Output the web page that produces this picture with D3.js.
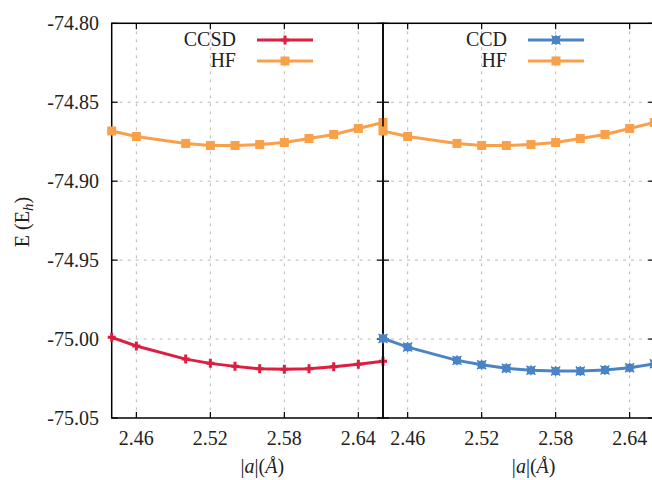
<!DOCTYPE html>
<html><head><meta charset="utf-8">
<script src="https://cdn.jsdelivr.net/npm/d3@7/dist/d3.min.js"></script>
<style>body{margin:0;background:#fff}svg{display:block}text{font-family:"Liberation Serif","DejaVu Serif",serif;fill:#222}</style>
</head><body><svg id="c" width="652" height="480"></svg>
<script>
const xs = [2.44, 2.46, 2.50, 2.52, 2.54, 2.56, 2.58, 2.60, 2.62, 2.64, 2.66];
const hf = [-74.8682, -74.8717, -74.8761, -74.8774, -74.8774, -74.8768, -74.8755, -74.8730, -74.8704, -74.8666, -74.8628];
const ccsd = [-74.9989, -75.0044, -75.0127, -75.0154, -75.0173, -75.0188, -75.0192, -75.0188, -75.0175, -75.0160, -75.0141];
const ccd = [-74.9996, -75.0051, -75.0135, -75.0163, -75.0185, -75.0198, -75.0203, -75.0203, -75.0196, -75.0182, -75.0157];
const xTicks = [2.46, 2.52, 2.58, 2.64];
const yTicks = [-74.80, -74.85, -74.90, -74.95, -75.00, -75.05];

const colRed = "#dc1f41", colOrange = "#f9a04b", colBlue = "#4884c6";
const svg = d3.select("#c");
const plotTop = 23.3, plotBottom = 418;
const y = d3.scaleLinear().domain([-75.05, -74.80]).range([plotBottom, plotTop]);

const panels = [
  {x0: 111.7, x1: 383, corr: ccsd, corrName: "CCSD", corrCol: colRed, marker: "plus", legX: 236, showY: true},
  {x0: 383, x1: 654.3, corr: ccd, corrName: "CCD", corrCol: colBlue, marker: "star", legX: 507, showY: false}
];

function drawMarker(g, type, cx, cy, col) {
  if (type === "square") {
    g.append("rect").attr("x", cx-4.5).attr("y", cy-4.5).attr("width", 9).attr("height", 9).attr("fill", col);
  } else if (type === "plus") {
    g.append("path").attr("d", `M${cx-4},${cy}H${cx+4}M${cx},${cy-4.5}V${cy+4.5}`).attr("stroke", col).attr("stroke-width", 3);
  } else {
    g.append("rect").attr("x", cx-4).attr("y", cy-4).attr("width", 8).attr("height", 8).attr("fill", col);
    g.append("path").attr("d", `M${cx-4.5},${cy-4.5}L${cx+4.5},${cy+4.5}M${cx-4.5},${cy+4.5}L${cx+4.5},${cy-4.5}M${cx-5},${cy}H${cx+5}M${cx},${cy-5}V${cy+5}`).attr("stroke", col).attr("stroke-width", 1.4);
  }
}

panels.forEach(p => {
  const x = d3.scaleLinear().domain([2.44, 2.66]).range([p.x0, p.x1]);
  const g = svg.append("g");
  xTicks.forEach(t => g.append("line").attr("x1", x(t)).attr("x2", x(t)).attr("y1", plotTop).attr("y2", plotBottom)
    .attr("stroke", "#b8b8b8").attr("stroke-width", 1).attr("stroke-dasharray", "3,5"));
  yTicks.slice(1, -1).forEach(t => g.append("line").attr("x1", p.x0).attr("x2", p.x1).attr("y1", y(t)).attr("y2", y(t))
    .attr("stroke", "#b8b8b8").attr("stroke-width", 1).attr("stroke-dasharray", "3,5"));
  xTicks.forEach(t => {
    g.append("line").attr("x1", x(t)).attr("x2", x(t)).attr("y1", plotBottom).attr("y2", plotBottom-6).attr("stroke", "#000").attr("stroke-width", 1.2);
    g.append("line").attr("x1", x(t)).attr("x2", x(t)).attr("y1", plotTop).attr("y2", plotTop+6).attr("stroke", "#000").attr("stroke-width", 1.2);
  });
  yTicks.forEach(t => {
    g.append("line").attr("x1", p.x0).attr("x2", p.x0+6).attr("y1", y(t)).attr("y2", y(t)).attr("stroke", "#000").attr("stroke-width", 1.2);
    g.append("line").attr("x1", p.x1).attr("x2", p.x1-6).attr("y1", y(t)).attr("y2", y(t)).attr("stroke", "#000").attr("stroke-width", 1.2);
  });
  g.append("rect").attr("x", p.x0).attr("y", plotTop).attr("width", p.x1-p.x0).attr("height", plotBottom-plotTop)
    .attr("fill", "none").attr("stroke", "#000").attr("stroke-width", 1.5);
  xTicks.forEach(t => g.append("text").attr("x", x(t)).attr("y", 445).attr("text-anchor", "middle")
    .attr("font-size", 20).text(t.toFixed(2)));
  const xl = g.append("text").attr("x", (p.x0+p.x1)/2 + 15).attr("y", 473).attr("text-anchor", "middle").attr("font-size", 20);
  xl.append("tspan").text("|");
  xl.append("tspan").attr("font-style", "italic").text("a");
  xl.append("tspan").text("|(");
  xl.append("tspan").attr("font-style", "italic").text("Å");
  xl.append("tspan").text(")");
  if (p.showY) {
    yTicks.forEach(t => g.append("text").attr("x", 99).attr("y", y(t)+7).attr("text-anchor", "end")
      .attr("font-size", 20).text(t.toFixed(2)));
    const yl = g.append("text").attr("transform", "translate(29,222) rotate(-90)").attr("text-anchor", "middle").attr("font-size", 20);
    yl.append("tspan").text("E (E");
    yl.append("tspan").attr("font-style", "italic").attr("font-size", 15).attr("dy", 4).text("h");
    yl.append("tspan").attr("dy", -4).text(")");
  }
  const line = d3.line().x((d, i) => x(xs[i])).y(d => y(d));
  const series = [
    {vals: hf, col: colOrange, m: "square"},
    {vals: p.corr, col: p.corrCol, m: p.marker}
  ];
  series.forEach(s => {
    g.append("path").attr("d", line(s.vals)).attr("fill", "none").attr("stroke", s.col).attr("stroke-width", 3);
    s.vals.forEach((v, i) => drawMarker(g, s.m, x(xs[i]), y(v), s.col));
  });
  const legRows = [
    {name: p.corrName, col: p.corrCol, m: p.marker, cy: 40},
    {name: "HF", col: colOrange, m: "square", cy: 61}
  ];
  legRows.forEach(r => {
    g.append("text").attr("x", p.legX).attr("y", r.cy + 6).attr("text-anchor", "end").attr("font-size", 20).text(r.name);
    const lx0 = p.legX + 21, lx1 = p.legX + 77;
    g.append("line").attr("x1", lx0).attr("x2", lx1).attr("y1", r.cy).attr("y2", r.cy).attr("stroke", r.col).attr("stroke-width", 3);
    drawMarker(g, r.m, (lx0+lx1)/2, r.cy, r.col);
  });
});
</script></body></html>
